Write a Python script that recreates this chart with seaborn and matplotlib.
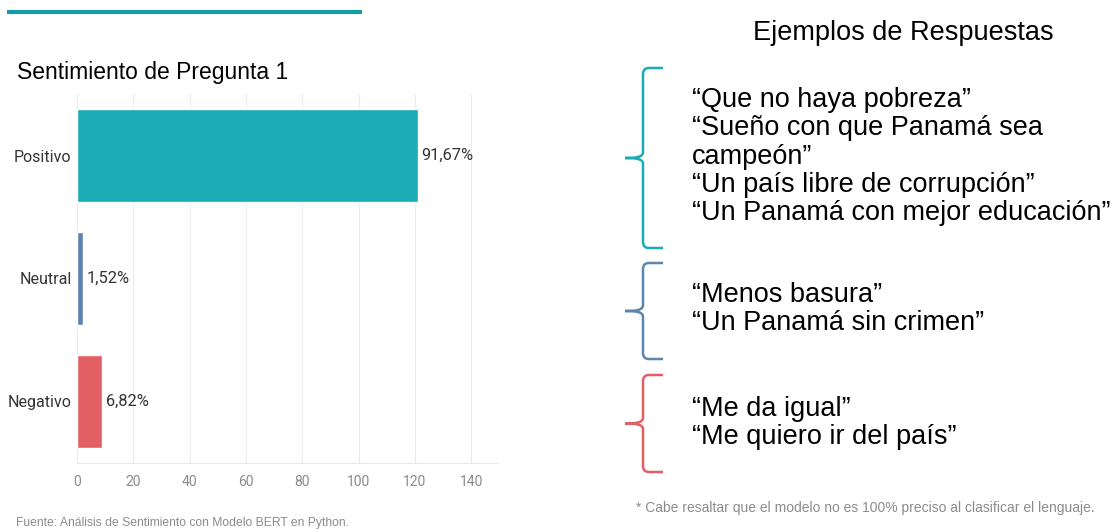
import numpy as np
import pandas as pd
import matplotlib.pyplot as plt
import seaborn as sns
from matplotlib.path import Path
from matplotlib.patches import PathPatch

categorias = ["Positivo", "Neutral", "Negativo"]
conteos = [121, 2, 9]
porcentajes = ["91,67%", "1,52%", "6,82%"]
colores = ["#1aabb4", "#5b84b1", "#e25f63"]
ticks_x = [0, 20, 40, 60, 80, 100, 120, 140]

ejemplos = [
    ["\u201cQue no haya pobreza\u201d", "\u201cSueño con que Panamá sea", "campeón\u201d",
     "\u201cUn país libre de corrupción\u201d", "\u201cUn Panamá con mejor educación\u201d"],
    ["\u201cMenos basura\u201d", "\u201cUn Panamá sin crimen\u201d"],
    ["\u201cMe da igual\u201d", "\u201cMe quiero ir del país\u201d"],
]

sns.set_style("white")
plt.rcParams['font.family'] = ['Liberation Sans', 'DejaVu Sans']

W, H = 1115, 532
fig = plt.figure(figsize=(W / 100, H / 100), dpi=100)

# overlay in pixel coords for decorations
ov = fig.add_axes([0, 0, 1, 1])
ov.set_xlim(0, W)
ov.set_ylim(H, 0)
ov.axis("off")

ax = fig.add_axes([77 / W, 69 / H, 421 / W, 369 / H])
df = pd.DataFrame({"cat": categorias, "n": conteos})
sns.barplot(data=df, x="n", y="cat", hue="cat", palette=colores, orient="h",
            width=0.75, legend=False, ax=ax, saturation=1)
ax.set_xlim(0, 149.5)
ax.set_ylim(2.5, -0.5)
ax.set_xticks(ticks_x)
ax.set_xlabel("")
ax.set_ylabel("")
for x in ticks_x:
    ax.axvline(x, color="#ececec", lw=0.8, zorder=0)
for s in ["top", "right", "left"]:
    ax.spines[s].set_visible(False)
ax.spines["bottom"].set_color("#e8e8e8")
ax.tick_params(axis="x", length=0, pad=9, labelsize=10, labelcolor="#8a8a8a")
ax.tick_params(axis="y", length=0, pad=4, labelsize=11.5, labelcolor="#333333")
for lab in ax.get_xticklabels() + ax.get_yticklabels():
    lab.set_fontfamily("Roboto")
for i, (n, p) in enumerate(zip(conteos, porcentajes)):
    ax.text(n + 1.3, i, p, va="center", ha="left", fontsize=11.8,
            color="#333333", family="Roboto")

# top rule and titles
ov.plot([7, 362], [12, 12], color="#139ea6", lw=3, solid_capstyle="butt")
ov.text(17, 72, "Sentimiento de Pregunta 1", fontsize=16.5, va="center", ha="left",
        color="black")
ov.text(903, 33, "Ejemplos de Respuestas", fontsize=19.5, va="center", ha="center",
        color="black")
ov.text(16, 523, "Fuente: Análisis de Sentimiento con Modelo BERT en Python.",
        fontsize=8.7, color="#8c8c8c", va="center", ha="left")
ov.text(636, 508, "* Cabe resaltar que el modelo no es 100% preciso al clasificar el lenguaje.",
        fontsize=10, color="#8c8c8c", va="center", ha="left")


def llave(y0, y1, color):
    xm, xt, xc = 643, 663, 625
    ym = (y0 + y1) / 2
    r = 6
    verts = [(xt, y0), (xm + r, y0), (xm, y0), (xm, y0 + r),
             (xm, ym - r), (xm, ym - 1), (xm - 6, ym), (xc, ym),
             (xm - 6, ym), (xm, ym + 1), (xm, ym + r),
             (xm, y1 - r), (xm, y1), (xm + r, y1), (xt, y1)]
    codes = [Path.MOVETO, Path.LINETO, Path.CURVE3, Path.CURVE3,
             Path.LINETO, Path.CURVE4, Path.CURVE4, Path.CURVE4,
             Path.CURVE4, Path.CURVE4, Path.CURVE4,
             Path.LINETO, Path.CURVE3, Path.CURVE3, Path.LINETO]
    ov.add_patch(PathPatch(Path(verts, codes), fill=False, edgecolor=color, lw=1.8))


llave(68, 248, colores[0])
llave(263, 359, colores[1])
llave(375, 472, colores[2])

y_inicio = [100, 295, 409]
for lineas, y0 in zip(ejemplos, y_inicio):
    for k, t in enumerate(lineas):
        ov.text(692, y0 + k * 28.3, t, fontsize=19.5, va="center", ha="left",
                color="black")

fig.savefig("out.png", dpi=100)
